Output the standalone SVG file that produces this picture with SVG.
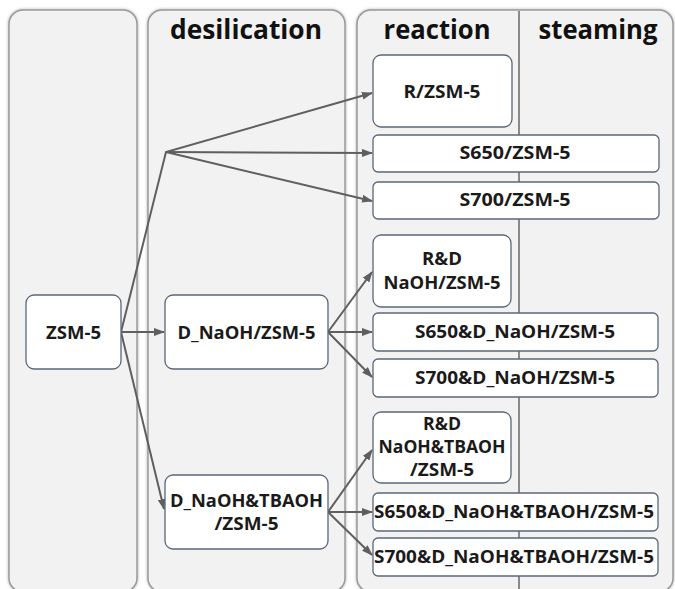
<svg xmlns="http://www.w3.org/2000/svg" width="675" height="589" viewBox="0 0 675 589">
<style>
.panel{fill:#f2f2f2;stroke:#9a9a9a;stroke-width:1.5}
.hdr{font-family:"Open Sans","Liberation Sans",Arial,sans-serif;font-weight:bold;font-size:26px;fill:#111;text-anchor:middle}
.node rect{fill:#fff;stroke:#596878;stroke-width:1.3}
.node text{font-family:"Open Sans","Liberation Sans",Arial,sans-serif;font-weight:bold;font-size:17.5px;fill:#1a1a1a;text-anchor:middle}
.conn line,.conn polyline{stroke:#5f5f5f;stroke-width:2;fill:none}
</style>
<defs>
<filter id="sh" x="-5%" y="-5%" width="110%" height="110%">
<feDropShadow dx="0" dy="0" stdDeviation="1.5" flood-color="#777" flood-opacity="0.6"/>
</filter>
<marker id="ah" markerWidth="11" markerHeight="8" refX="10" refY="4" orient="auto" markerUnits="userSpaceOnUse">
<path d="M0,0 L11,4 L0,8 Z" fill="#5f5f5f"/>
</marker>
</defs>
<rect width="675" height="589" fill="#fff"/>
<g id="panels">
<rect class="panel" filter="url(#sh)" x="9" y="10" width="128" height="582" rx="14"/>
<rect class="panel" filter="url(#sh)" x="148" y="10" width="197" height="582" rx="14"/>
<rect class="panel" filter="url(#sh)" x="357" y="10" width="316" height="582" rx="14"/>
<line x1="519" y1="11" x2="519" y2="589" stroke="#8a8a8a" stroke-width="2"/>
<text class="hdr" x="246" y="39" textLength="152" lengthAdjust="spacingAndGlyphs">desilication</text>
<text class="hdr" x="437" y="39" textLength="107" lengthAdjust="spacingAndGlyphs">reaction</text>
<text class="hdr" x="598" y="39" textLength="119" lengthAdjust="spacingAndGlyphs">steaming</text>
</g>
<g id="connectors" class="conn">
<polyline points="121,332 166,152 372,93" marker-end="url(#ah)"/>
<line x1="166" y1="152" x2="372" y2="153" marker-end="url(#ah)"/>
<line x1="166" y1="152" x2="372" y2="201" marker-end="url(#ah)"/>
<line x1="121" y1="332" x2="164" y2="332" marker-end="url(#ah)"/>
<line x1="121" y1="332" x2="164" y2="509" marker-end="url(#ah)"/>
<line x1="328" y1="332" x2="372" y2="272" marker-end="url(#ah)"/>
<line x1="328" y1="332" x2="372" y2="332" marker-end="url(#ah)"/>
<line x1="328" y1="332" x2="372" y2="377" marker-end="url(#ah)"/>
<line x1="328" y1="512" x2="372" y2="450" marker-end="url(#ah)"/>
<line x1="328" y1="512" x2="372" y2="512" marker-end="url(#ah)"/>
<line x1="328" y1="512" x2="372" y2="555" marker-end="url(#ah)"/>
</g>
<g id="n-zsm5" class="node"><rect x="26" y="295" width="95" height="74" rx="8"/><text x="73.5" y="339" textLength="55" lengthAdjust="spacingAndGlyphs">ZSM-5</text></g>
<g id="n-dnaoh" class="node"><rect x="165" y="295" width="163" height="74" rx="8"/><text x="246.5" y="339" textLength="138" lengthAdjust="spacingAndGlyphs">D_NaOH/ZSM-5</text></g>
<g id="n-dnaohtbaoh" class="node"><rect x="165" y="475" width="163" height="74" rx="8"/><text x="246.5" y="507" textLength="153" lengthAdjust="spacingAndGlyphs">D_NaOH&amp;TBAOH</text><text x="246.5" y="530" textLength="64" lengthAdjust="spacingAndGlyphs">/ZSM-5</text></g>
<g id="n-r" class="node"><rect x="373" y="55" width="139" height="72" rx="8"/><text x="442" y="98" textLength="77" lengthAdjust="spacingAndGlyphs">R/ZSM-5</text></g>
<g id="n-s650" class="node"><rect x="373" y="135" width="286" height="37" rx="5"/><text x="515" y="159" textLength="111" lengthAdjust="spacingAndGlyphs">S650/ZSM-5</text></g>
<g id="n-s700" class="node"><rect x="373" y="182" width="286" height="37" rx="5"/><text x="515" y="206" textLength="111" lengthAdjust="spacingAndGlyphs">S700/ZSM-5</text></g>
<g id="n-rd" class="node"><rect x="373" y="235" width="138" height="72" rx="8"/><text x="442" y="265" textLength="40" lengthAdjust="spacingAndGlyphs">R&amp;D</text><text x="442" y="289" textLength="117" lengthAdjust="spacingAndGlyphs">NaOH/ZSM-5</text></g>
<g id="n-s650d" class="node"><rect x="373" y="313" width="285" height="38" rx="5"/><text x="515" y="338" textLength="200" lengthAdjust="spacingAndGlyphs">S650&amp;D_NaOH/ZSM-5</text></g>
<g id="n-s700d" class="node"><rect x="373" y="359" width="285" height="38" rx="5"/><text x="515" y="384" textLength="200" lengthAdjust="spacingAndGlyphs">S700&amp;D_NaOH/ZSM-5</text></g>
<g id="n-rdt" class="node"><rect x="373" y="412" width="138" height="71" rx="8"/><text x="442" y="430" textLength="38" lengthAdjust="spacingAndGlyphs">R&amp;D</text><text x="442" y="453" textLength="127" lengthAdjust="spacingAndGlyphs">NaOH&amp;TBAOH</text><text x="442" y="476" textLength="64" lengthAdjust="spacingAndGlyphs">/ZSM-5</text></g>
<g id="n-s650dt" class="node"><rect x="373" y="493" width="285" height="38" rx="5"/><text x="514" y="518" textLength="280" lengthAdjust="spacingAndGlyphs">S650&amp;D_NaOH&amp;TBAOH/ZSM-5</text></g>
<g id="n-s700dt" class="node"><rect x="373" y="538" width="285" height="38" rx="5"/><text x="514" y="563" textLength="280" lengthAdjust="spacingAndGlyphs">S700&amp;D_NaOH&amp;TBAOH/ZSM-5</text></g>
</svg>
